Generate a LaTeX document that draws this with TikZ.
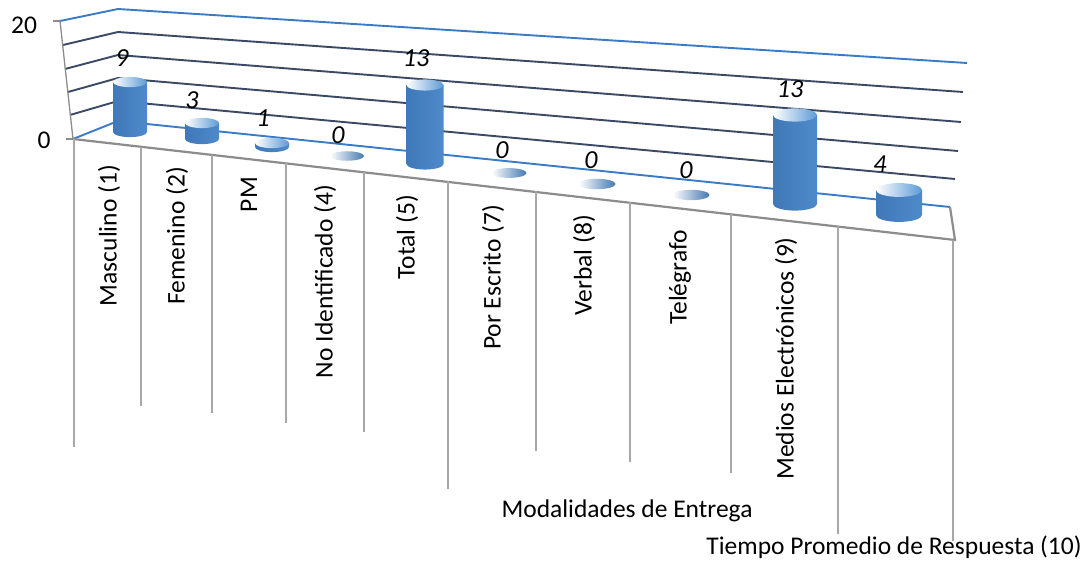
\documentclass[tikz,border=0pt]{standalone}
\usepackage{fontspec}
\setmainfont{Carlito}
\usetikzlibrary{calc}
\definecolor{gridblue}{HTML}{3A7BC8}
\definecolor{griddark}{HTML}{3A4A64}
\definecolor{axisgray}{HTML}{8C8C8C}
\definecolor{sepgray}{HTML}{A8A8A8}
\definecolor{barL}{HTML}{4078B8}
\definecolor{barM}{HTML}{6EAEEA}
\definecolor{barR}{HTML}{4E8ACA}
\definecolor{barT}{HTML}{5C9AD6}
\definecolor{zeroR}{HTML}{4479B2}
\tikzset{t/.style={font=\fontsize{25.5}{30}\selectfont}}
\tikzset{v/.style={font=\fontsize{26}{30}\selectfont\itshape,inner sep=0}}
\tikzset{cat/.style={t,rotate=90,anchor=east,inner sep=0}}
\tikzset{gb/.style={gridblue,line width=1.9}}
\tikzset{gd/.style={griddark,line width=1.9}}
\tikzset{sep/.style={sepgray,line width=1.1}}
\newcommand{\cylbar}[4]{%
  \shade[left color=barL,middle color=barM,right color=barR]
    (#1-#4,#2) -- (#1-#4,#3) arc[start angle=180,end angle=0,x radius=#4,y radius=0.3*#4] -- (#1+#4,#2) -- cycle;
  \shade[left color=white,right color=barT] (#1,#2) ellipse[x radius=#4,y radius=0.3*#4];
}
\newcommand{\zerodisc}[3]{%
  \shade[left color=white,right color=zeroR] (#1,#2) ellipse[x radius=#3,y radius=0.28*#3];
}

\begin{document}
\begin{tikzpicture}[x=1pt,y=-1pt]
  \useasboundingbox (0,0) rectangle (1086,561);
  % back and side wall
  \draw[gb] (60,21) -- (118,9) -- (967,63);
  \draw[gd] (63,45) -- (118,32) -- (963,92);
  \draw[gd] (65,69) -- (118,55) -- (961,122);
  \draw[gd] (68,92) -- (118,78) -- (958,151);
  \draw[gd] (70,115) -- (118,101) -- (955,179);
  \draw[gb] (73,139) -- (118,121) -- (950,207);
  % value axis
  \draw[axisgray,line width=1.3] (60,21) -- (73,139);
  \draw[axisgray,line width=1.3] (53,21) -- (60,21);
  \draw[axisgray,line width=1.3] (66,139) -- (73,139);
  \node[t] (y20) at (24,25) {20};
  \node[t] (y0) at (44,140) {0};
  % floor
  \draw[axisgray,line width=2.2] (73,139) -- (955,240) -- (950,207);
  % category separators
  \draw[sep] (74,139) -- (74,447);
  \draw[sep] (141,147) -- (141,406);
  \draw[sep] (212,155) -- (212,413);
  \draw[sep] (286,163) -- (286,423);
  \draw[sep] (364,172) -- (364,432);
  \draw[sep] (448,181) -- (448,489);
  \draw[sep] (536,191) -- (536,451);
  \draw[sep] (630,202) -- (630,462);
  \draw[sep] (731,214) -- (731,473);
  \draw[sep] (838,226) -- (838,534);
  \draw[sep] (953,240) -- (953,541);
  % bars
  \cylbar{130}{82}{132}{17}
  \cylbar{202}{123}{139}{17}
  \cylbar{272}{143}{147}{17}
  \zerodisc{347}{156}{17}
  \cylbar{425}{85}{164}{18.5}
  \zerodisc{509}{173}{17.5}
  \zerodisc{597}{184}{18.5}
  \zerodisc{691}{195}{18.5}
  \cylbar{795}{115}{204}{22}
  \cylbar{899}{190}{215}{23}
  % values
  \node[v] (n1) at (122,58) {9};
  \node[v] (n2) at (192,100) {3};
  \node[v] (n3) at (263,118) {1};
  \node[v] (n4) at (338,135) {0};
  \node[v] (n5) at (416,58) {13};
  \node[v] (n6) at (502,150) {0};
  \node[v] (n7) at (591,160) {0};
  \node[v] (n8) at (686,170) {0};
  \node[v] (n9) at (790,89) {13};
  \node[v] (n10) at (880,164) {4};
  % category labels
  \node[cat] (c1) at (109,165) {Masculino (1)};
  \node[cat] (c2) at (177,167) {Femenino (2)};
  \node[cat] (c3) at (249,177) {PM};
  \node[cat] (c4) at (325,185) {No Identificado (4)};
  \node[cat] (c5) at (407,195) {Total (5)};
  \node[cat] (c6) at (493,205) {Por Escrito (7)};
  \node[cat] (c7) at (584,215) {Verbal (8)};
  \node[cat] (c8) at (680,230) {Telégrafo};
  \node[cat] (c9) at (786,237) {Medios Electrónicos (9)};
  \node[t,anchor=base] (grp) at (627,517) {Modalidades de Entrega};
  \node[t,anchor=base] (c10) at (894,554) {Tiempo Promedio de Respuesta (10)};
\end{tikzpicture}
\end{document}
